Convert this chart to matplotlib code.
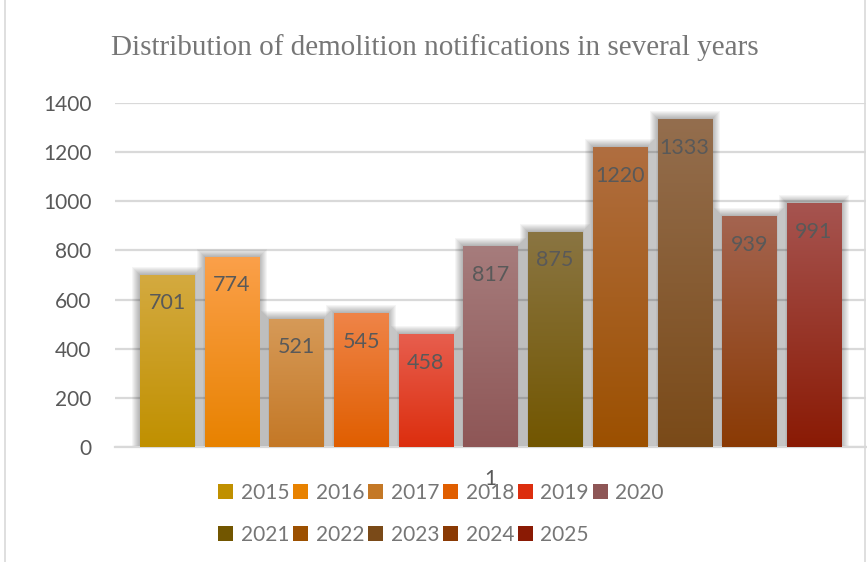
import numpy as np
import matplotlib
matplotlib.use("Agg")
import matplotlib.pyplot as plt
from matplotlib.patches import Rectangle
from matplotlib.colors import LinearSegmentedColormap

# ---------------------------------------------------------------- данные
years = ["2015", "2016", "2017", "2018", "2019", "2020",
         "2021", "2022", "2023", "2024", "2025"]
values = [701, 774, 521, 545, 458, 817, 875, 1220, 1333, 939, 991]
category = "1"
title = "Distribution of demolition notifications in several years"
yticks = [0, 200, 400, 600, 800, 1000, 1200, 1400]

# градиенты (верх, низ) для каждой серии
top_cols = ["#D4AA40", "#FBA04A", "#D69A58", "#EF8448", "#E75E4E", "#A67C7C",
            "#8A7542", "#B06E40", "#946E4E", "#A46450", "#A65450"]
bot_cols = ["#C09000", "#E88200", "#C47826", "#E05E00", "#DC2E0E", "#8E5656",
            "#725600", "#9C5000", "#7A4A18", "#8A3A04", "#8A1A04"]

GRAY = "#595959"
GRID = "#d9d9d9"
plt.rcParams["font.family"] = ["Lato", "DejaVu Sans"]

fig = plt.figure(figsize=(8.67, 5.62), dpi=100)
ax = fig.add_axes([115 / 867, 115 / 562, 751 / 867, 344 / 562])

n = len(values)
x = np.arange(n)
w = 54 / 64.6
xlim = (-0.418 - 0.387, n - 1 + 0.418 + 0.387)

# пиксели в единицах данных
px_x = 1 / 64.6
px_y = 1400 / 344

for i, (xi, v) in enumerate(zip(x, values)):
    # мягкая тень
    for k in range(1, 9):
        ax.add_patch(Rectangle((xi - w / 2 - k * px_x, -2 * px_y),
                               w + 2 * k * px_x, v + (k + 2) * px_y,
                               facecolor="black", edgecolor="none",
                               alpha=0.04, zorder=1))
    bar = ax.bar(xi, v, width=w, color=bot_cols[i], zorder=2,
                 label=years[i])[0]
    cmap = LinearSegmentedColormap.from_list("g%d" % i,
                                             [bot_cols[i], top_cols[i]])
    grad = np.linspace(0, 1, 256).reshape(-1, 1)
    im = ax.imshow(grad, cmap=cmap, origin="lower", aspect="auto",
                   extent=(xi - w / 2, xi + w / 2, 0, v), zorder=3)
    im.set_clip_path(bar)
    ax.annotate(str(v), (xi, v), xytext=(0, -20.5), textcoords="offset points",
                ha="center", va="center", fontsize=15.5, color=GRAY, zorder=4)

ax.set_xlim(*xlim)
ax.set_ylim(0, 1400)

ax.set_yticks(yticks)
ax.set_yticklabels([str(t) for t in yticks])
ax.set_xticks([x.mean()])
ax.set_xticklabels([category])
ax.tick_params(axis="y", length=0, pad=17, labelsize=15, labelcolor=GRAY)
ax.tick_params(axis="x", length=0, pad=16, labelsize=15, labelcolor=GRAY)
ax.grid(axis="y", color=GRID, lw=1.6, zorder=0)
ax.set_axisbelow(True)
for s in ["top", "right", "left"]:
    ax.spines[s].set_visible(False)
ax.spines["bottom"].set_color(GRID)
ax.spines["bottom"].set_linewidth(1.6)

fig.text(435 / 867, 1 - 48 / 562, title, ha="center", va="center",
         fontsize=21, color="#767676", family="Liberation Serif")

# легенда: порядок по строкам
order = [0, 6, 1, 7, 2, 8, 3, 9, 4, 10, 5]
handles = [Rectangle((0, 0), 1, 1, facecolor=bot_cols[i], edgecolor="none")
           for i in order]
leg = fig.legend(handles, [years[i] for i in order], ncol=6, loc="upper left",
                 bbox_to_anchor=(199 / 867, 1 - 464 / 562), frameon=False,
                 fontsize=15, handlelength=0.72, handleheight=0.72,
                 handletextpad=0.38, columnspacing=0.17, labelspacing=1.05,
                 labelcolor="#767676")

# рамка диаграммы
fig.add_artist(plt.Line2D([5 / 867, 5 / 867], [0, 1], color=GRID, lw=1.2))
fig.add_artist(plt.Line2D([865 / 867, 865 / 867], [0, 1], color=GRID, lw=1.2))

fig.savefig("out.png", dpi=100)
